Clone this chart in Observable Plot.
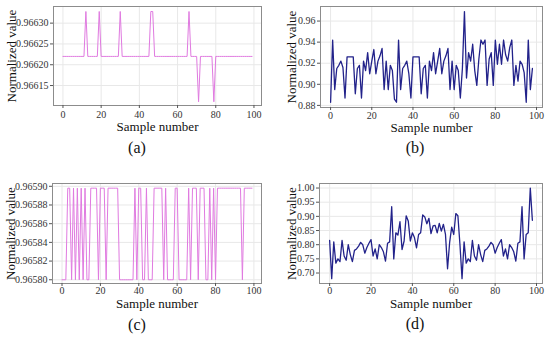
<!DOCTYPE html>
<html><head><meta charset="utf-8">
<script src="https://cdn.jsdelivr.net/npm/d3@7"></script>
<script src="https://cdn.jsdelivr.net/npm/@observablehq/plot@0.6"></script>
<style>
body{margin:0;background:#fff;}
#wrap{position:relative;width:550px;height:339px;font-family:"Liberation Serif",serif;overflow:hidden;}
#wrap svg, #wrap svg text{font-family:"Liberation Serif",serif !important;}
.panel{position:absolute;}
.cap{position:absolute;font-size:16px;color:#111;transform:translate(-50%,-50%);white-space:nowrap;}
</style></head><body><div id="wrap"></div>
<script>
const xTicks = [0, 20, 40, 60, 80, 100];
const yTicksA = [0.96615, 0.9662, 0.96625, 0.9663];
const yTicksB = [0.88, 0.9, 0.92, 0.94, 0.96];
const yTicksC = [0.9658, 0.96582, 0.96584, 0.96586, 0.96588, 0.9659];
const yTicksD = [0.7, 0.75, 0.8, 0.85, 0.9, 0.95, 1.0];

const seriesA = [
0.96622,0.96622,0.96622,0.96622,0.96622,0.96622,0.96622,0.96622,0.96622,0.96622,
0.96622,0.96622,0.966328,0.96622,0.96622,0.96622,0.96622,0.96622,0.96622,0.966328,
0.96622,0.96622,0.96622,0.96622,0.96622,0.96622,0.96622,0.96622,0.96622,0.96622,
0.966328,0.96622,0.96622,0.96622,0.96622,0.96622,0.96622,0.96622,0.96622,0.96622,
0.96622,0.96622,0.96622,0.96622,0.96622,0.96622,0.966328,0.966328,0.96622,0.96622,
0.96622,0.96622,0.96622,0.96622,0.96622,0.96622,0.96622,0.96622,0.96622,0.96622,
0.96622,0.96622,0.96622,0.96622,0.96622,0.96622,0.966328,0.96622,0.96622,0.96622,
0.96622,0.966111,0.96622,0.96622,0.96622,0.96622,0.96622,0.96622,0.96622,0.966111,
0.96622,0.96622,0.96622,0.96622,0.96622,0.96622,0.96622,0.96622,0.96622,0.96622,
0.96622,0.96622,0.96622,0.96622,0.96622,0.96622,0.96622,0.96622,0.96622,0.96622];

const seriesB = [
0.883,0.942,0.895,0.915,0.918,0.922,0.916,0.887,0.926,0.926,
0.926,0.926,0.891,0.915,0.918,0.887,0.922,0.913,0.930,0.910,
0.922,0.933,0.910,0.922,0.927,0.934,0.895,0.922,0.895,0.918,
0.913,0.886,0.883,0.942,0.895,0.915,0.918,0.922,0.910,0.887,
0.926,0.926,0.926,0.926,0.891,0.915,0.918,0.887,0.922,0.913,
0.930,0.910,0.922,0.934,0.910,0.922,0.927,0.934,0.895,0.922,
0.895,0.918,0.913,0.887,0.915,0.969,0.906,0.930,0.922,0.938,
0.913,0.899,0.924,0.942,0.938,0.942,0.899,0.924,0.930,0.899,
0.942,0.919,0.938,0.919,0.942,0.928,0.922,0.935,0.942,0.899,
0.918,0.903,0.922,0.919,0.911,0.883,0.942,0.895,0.915];

const seriesC = [
0.9658,0.9658,0.9658,0.965898,0.965898,0.9658,0.965898,0.9658,0.965898,0.9658,
0.965898,0.9658,0.965898,0.9658,0.9658,0.965898,0.965898,0.965898,0.965898,0.9658,
0.965898,0.965898,0.965898,0.9658,0.965898,0.965898,0.965898,0.965898,0.965898,0.965898,
0.9658,0.9658,0.9658,0.9658,0.9658,0.9658,0.9658,0.9658,0.965898,0.9658,
0.965898,0.965898,0.9658,0.9658,0.965898,0.9658,0.9658,0.9658,0.965898,0.965898,
0.965898,0.965898,0.965898,0.9658,0.965898,0.9658,0.9658,0.9658,0.9658,0.965898,
0.965898,0.9658,0.9658,0.9658,0.9658,0.9658,0.965898,0.9658,0.965898,0.965898,
0.965898,0.9658,0.965898,0.965898,0.965898,0.9658,0.9658,0.965898,0.9658,0.965898,
0.9658,0.965898,0.965898,0.965898,0.965898,0.965898,0.965898,0.965898,0.965898,0.965898,
0.965898,0.965898,0.965898,0.965898,0.9658,0.965898,0.965898,0.965898,0.965898,0.965898];

const seriesD = [
0.815,0.68,0.81,0.735,0.75,0.74,0.815,0.76,0.745,0.80,
0.765,0.74,0.78,0.785,0.795,0.808,0.80,0.77,0.79,0.805,
0.818,0.76,0.785,0.75,0.80,0.79,0.775,0.742,0.805,0.81,
0.934,0.75,0.842,0.834,0.881,0.783,0.813,0.902,0.884,0.813,
0.842,0.825,0.789,0.836,0.842,0.905,0.898,0.874,0.893,0.839,
0.866,0.868,0.842,0.875,0.848,0.872,0.836,0.715,0.807,0.862,
0.836,0.91,0.902,0.80,0.68,0.81,0.735,0.75,0.74,0.815,
0.76,0.745,0.80,0.765,0.74,0.78,0.785,0.795,0.808,0.80,
0.77,0.79,0.805,0.818,0.76,0.785,0.75,0.80,0.79,0.775,
0.742,0.805,0.81,0.934,0.75,0.836,0.842,1.00,0.886];

const captions = ["(a)", "(b)", "(c)", "(d)"];
const xTitle = "Sample number";
const yTitle = "Normalized value";

const pink = "#e07ae0";
const navy = "#22228a";
const serif = "Liberation Serif";

const wrap = document.getElementById("wrap");

function panel(o) {
  const fmt = d3.format(o.fmt);
  const svg = Plot.plot({
    width: o.w, height: o.h,
    marginLeft: o.ml, marginRight: o.mr, marginTop: o.mt, marginBottom: o.mb,
    style: {fontFamily: serif, fontSize: "10px", color: "#333", background: "transparent", overflow: "visible"},
    x: {domain: o.xdom},
    y: {domain: o.ydom},
    marks: [
      Plot.gridX(xTicks, {stroke: "#e8e8e8", strokeOpacity: 1}),
      Plot.gridY(o.yticks, {stroke: "#e8e8e8", strokeOpacity: 1}),
      Plot.lineY(o.data, {x: (d, i) => i, y: d => d, stroke: o.color, strokeWidth: o.sw}),
      Plot.frame({stroke: "#8c8c8c", strokeWidth: 1}),
      Plot.axisX(xTicks, {tickSize: 3, tickPadding: o.xpad, label: null, stroke: "#555", fontFamily: serif, fontSize: 10}),
      Plot.axisY(o.yticks, {tickSize: 3, tickPadding: 2, tickFormat: fmt, label: null, stroke: "#555", fontFamily: serif, fontSize: 10}),
      Plot.text([xTitle], {frameAnchor: "bottom", dy: o.xdy, text: d => d, fontFamily: serif, fontSize: 13, textAnchor: "middle", lineAnchor: "middle", fill: "#111"}),
      Plot.text([yTitle], {frameAnchor: "left", dx: o.ydx, text: d => d, fontFamily: serif, fontSize: 13, rotate: -90, textAnchor: "middle", lineAnchor: "middle", fill: "#111"})
    ]
  });
  svg.classList.add("panel");
  svg.style.left = o.left + "px";
  svg.style.top = o.top + "px";
  wrap.appendChild(svg);
  const c = document.createElement("div");
  c.className = "cap";
  c.textContent = o.cap;
  c.style.left = o.cx + "px";
  c.style.top = o.cy + "px";
  wrap.appendChild(c);
}

panel({data: seriesA, yticks: yTicksA, fmt: ".5f", ydom: [0.966102, 0.96634], xdom: [-4.95, 103.95],
  color: pink, sw: 1, left: 0, top: 0, w: 275, h: 140, ml: 53, mr: 14, mt: 6, mb: 35,
  xpad: 2, xdy: 21, ydx: -42, cap: captions[0], cx: 137, cy: 148});
panel({data: seriesB, yticks: yTicksB, fmt: ".2f", ydom: [0.8780, 0.9738], xdom: [-4.9, 102.9],
  color: navy, sw: 1.3, left: 275, top: 0, w: 275, h: 140, ml: 45, mr: 8, mt: 6, mb: 33,
  xpad: 1, xdy: 20, ydx: -29, cap: captions[1], cx: 415, cy: 148});
panel({data: seriesC, yticks: yTicksC, fmt: ".5f", ydom: [0.965796, 0.965903], xdom: [-4.95, 103.95],
  color: pink, sw: 1, left: 0, top: 177, w: 275, h: 140, ml: 52, mr: 14, mt: 6, mb: 34,
  xpad: 0, xdy: 20, ydx: -42, cap: captions[2], cx: 137, cy: 325});
panel({data: seriesD, yticks: yTicksD, fmt: ".2f", ydom: [0.663, 1.016], xdom: [-4.9, 102.9],
  color: navy, sw: 1.3, left: 275, top: 177, w: 275, h: 140, ml: 44, mr: 8, mt: 6, mb: 34,
  xpad: 0, xdy: 20, ydx: -28, cap: captions[3], cx: 415, cy: 324});
</script>
</body></html>
